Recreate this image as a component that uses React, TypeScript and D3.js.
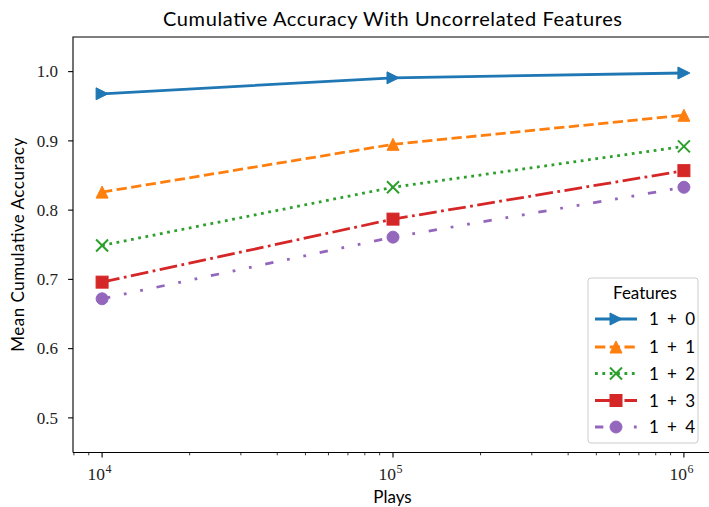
import * as d3 from "d3";

const width = 709;
const height = 507;
const plays = [1e4, 1e5, 1e6];
const seriesNames = ["1 + 0", "1 + 1", "1 + 2", "1 + 3", "1 + 4"];
const acc10 = [0.968, 0.991, 0.998];
const acc11 = [0.826, 0.895, 0.937];
const acc12 = [0.749, 0.833, 0.892];
const acc13 = [0.696, 0.787, 0.857];
const acc14 = [0.672, 0.761, 0.833];
const yTicks = [0.5, 0.6, 0.7, 0.8, 0.9, 1.0];
const xTicks = [1e4, 1e5, 1e6];

const colors = ["#1f77b4", "#ff7f0e", "#2ca02c", "#d62728", "#9467bd"];
const lw = 2.78;
const dashes = [
  "none",
  `${3.7 * lw},${1.6 * lw}`,
  `${1 * lw},${1.65 * lw}`,
  `${6.4 * lw},${1.6 * lw},${1 * lw},${1.6 * lw}`,
  `${3 * lw},${5 * lw},${1 * lw},${5 * lw},${1 * lw},${5 * lw}`,
];
const markers = ["triangle-right", "triangle-up", "x", "square", "circle"];
const allSeries = [acc10, acc11, acc12, acc13, acc14];

const sans = "Lato, 'Open Sans', sans-serif";
const serif = "'Liberation Serif', 'DejaVu Serif', serif";

function Marker({ kind, x, y, color }: { kind: string; x: number; y: number; color: string }) {
  const s = 12;
  const h = s / 2;
  if (kind === "triangle-right") {
    return <path d={`M${x + h},${y}L${x - h},${y - h}L${x - h},${y + h}Z`} fill={color} stroke={color} strokeWidth={1} />;
  }
  if (kind === "triangle-up") {
    return <path d={`M${x},${y - h}L${x - h},${y + h}L${x + h},${y + h}Z`} fill={color} stroke={color} strokeWidth={1} />;
  }
  if (kind === "x") {
    return (
      <path
        d={`M${x - h},${y - h}L${x + h},${y + h}M${x - h},${y + h}L${x + h},${y - h}`}
        stroke={color}
        strokeWidth={2}
        fill="none"
      />
    );
  }
  if (kind === "square") {
    return <rect x={x - h} y={y - h} width={s} height={s} fill={color} stroke={color} strokeWidth={1} />;
  }
  return <circle cx={x} cy={y} r={h} fill={color} stroke={color} strokeWidth={1} />;
}

export default function App() {
  const margin = { left: 73, right: 713, top: 37, bottom: 452.5 };
  const x = d3.scaleLog().domain([10 ** 3.9, 10 ** 6.1]).range([margin.left, margin.right]);
  const y = d3.scaleLinear().domain([0.45, 1.05]).range([margin.bottom, margin.top]);

  const minorTicks: number[] = [];
  [1e3, 1e4, 1e5, 1e6].forEach((base) => {
    for (let k = 2; k <= 9; k++) {
      const v = base * k;
      if (v > x.domain()[0] && v < x.domain()[1]) minorTicks.push(v);
    }
  });

  const line = d3
    .line<number>()
    .x((_, i) => x(plays[i]))
    .y((d) => y(d));

  const legendX = 588;
  const legendY = 278;
  const rowYs = [319, 347, 373.5, 400.5, 427];

  return (
    <svg
      width={width}
      height={height}
      style={{ position: "absolute", left: 0, top: 0, background: "#fff" }}
    >
      <defs>
        <clipPath id="plotClip">
          <rect x={margin.left} y={margin.top} width={margin.right - margin.left} height={margin.bottom - margin.top} />
        </clipPath>
      </defs>

      {/* title */}
      <text
        x={392.5}
        y={25.5}
        textAnchor="middle"
        fontFamily={sans}
        fontSize={20}
        textLength={459}
        lengthAdjust="spacing"
        fill="#000"
      >
        Cumulative Accuracy With Uncorrelated Features
      </text>

      {/* lines */}
      <g clipPath="url(#plotClip)">
        {allSeries.map((vals, si) => (
          <path
            key={`l${si}`}
            d={line(vals) ?? ""}
            fill="none"
            stroke={colors[si]}
            strokeWidth={lw}
            strokeDasharray={dashes[si]}
            strokeLinejoin="round"
          />
        ))}
        {allSeries.map((vals, si) =>
          vals.map((v, i) => (
            <Marker key={`m${si}-${i}`} kind={markers[si]} x={x(plays[i])} y={y(v)} color={colors[si]} />
          )),
        )}
      </g>

      {/* spines */}
      <path
        d={`M${margin.left},${margin.bottom}V${margin.top}H${margin.right}M${margin.left},${margin.bottom}H${margin.right}`}
        fill="none"
        stroke="#000"
        strokeWidth={1.1}
      />

      {/* y ticks */}
      {yTicks.map((t) => (
        <g key={`yt${t}`}>
          <line x1={margin.left - 4.9} x2={margin.left} y1={y(t)} y2={y(t)} stroke="#000" strokeWidth={1.1} />
          <text x={58} y={y(t) + 5.8} textAnchor="end" fontFamily={serif} fontSize={17} fill="#222">
            {d3.format(".1f")(t)}
          </text>
        </g>
      ))}

      {/* x ticks */}
      {minorTicks.map((t) => (
        <line key={`mt${t}`} x1={x(t)} x2={x(t)} y1={margin.bottom} y2={margin.bottom + 2.8} stroke="#000" strokeWidth={0.8} />
      ))}
      {xTicks.map((t) => (
        <g key={`xt${t}`}>
          <line x1={x(t)} x2={x(t)} y1={margin.bottom} y2={margin.bottom + 4.9} stroke="#000" strokeWidth={1.1} />
          <text x={x(t) - 2.5} y={480} textAnchor="middle" fontFamily={serif} fontSize={17.5} fill="#222">
            10
            <tspan dx={0.5} dy={-7.5} fontSize={12}>
              {Math.round(Math.log10(t))}
            </tspan>
          </text>
        </g>
      ))}

      {/* axis labels */}
      <text x={392.5} y={503} textAnchor="middle" fontFamily={sans} fontSize={17} fill="#000">
        Plays
      </text>
      <text
        transform={`translate(24,${(margin.top + margin.bottom) / 2}) rotate(-90)`}
        textAnchor="middle"
        fontFamily={sans}
        fontSize={17}
        textLength={214}
        lengthAdjust="spacing"
        fill="#000"
      >
        Mean Cumulative Accuracy
      </text>

      {/* legend */}
      <rect
        x={legendX}
        y={legendY}
        width={110}
        height={165}
        rx={3}
        fill="#fff"
        fillOpacity={0.8}
        stroke="#cccccc"
        strokeWidth={1}
      />
      <text x={645} y={299} textAnchor="middle" fontFamily={sans} fontSize={17} fill="#000">
        Features
      </text>
      {seriesNames.map((name, si) => (
        <g key={`lg${si}`}>
          <line
            x1={595}
            x2={637}
            y1={rowYs[si]}
            y2={rowYs[si]}
            stroke={colors[si]}
            strokeWidth={lw}
            strokeDasharray={dashes[si]}
          />
          <Marker kind={markers[si]} x={616} y={rowYs[si]} color={colors[si]} />
          <text
            x={649}
            y={rowYs[si] + 6}
            fontFamily={sans}
            fontSize={17}
            textLength={46}
            lengthAdjust="spacing"
            fill="#000"
          >
            {name}
          </text>
        </g>
      ))}
    </svg>
  );
}
